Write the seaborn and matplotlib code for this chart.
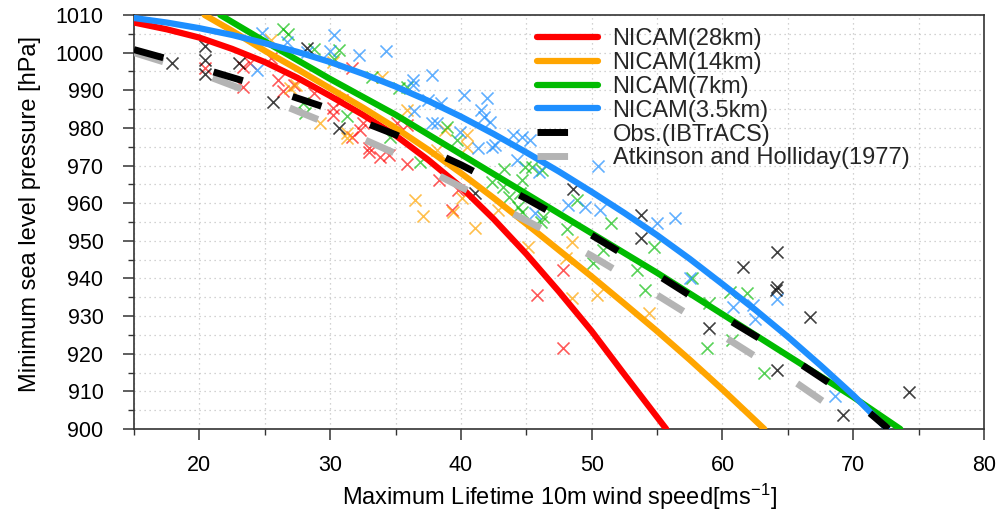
import matplotlib.pyplot as plt
from matplotlib.lines import Line2D
from matplotlib.ticker import MultipleLocator
import seaborn as sns

# fitted curves
red_x = [15, 17.5, 20, 22.5, 25, 27.5, 30, 32.5, 35, 37.5, 40, 42.5, 45, 47.5, 50, 52.5, 55.7]
red_y = [1008, 1006.2, 1004, 1001, 997.5, 993.3, 988.5, 983.5, 978, 971.5, 964.3, 955.8,
         946.5, 936.5, 926, 914.5, 900]
orange_x = [20.4, 22.5, 25, 27.5, 30, 32.5, 35, 37.5, 40, 42.5, 45, 47.5, 50, 52.5, 55,
            57.5, 60, 63.2]
orange_y = [1010, 1005.8, 1000.5, 995.6, 990.5, 985.4, 980, 974.2, 968, 961.4, 954.5,
            947.5, 940.5, 933.3, 926, 918.4, 910.5, 900]
green_x = [21.6, 25, 30, 35, 40, 45, 50, 55, 60, 65, 70, 73.6]
green_y = [1010, 1003, 993, 983.5, 973, 962.5, 952, 941.5, 930.5, 919.5, 908.5, 900]
blue_x = [15, 17.5, 20, 22.5, 25, 27.5, 30, 32.5, 35, 37.5, 40, 42.5, 45, 47.5, 50, 52.5,
          55, 57.5, 60, 62.5, 65, 67.5, 70, 72.6]
blue_y = [1009.2, 1008, 1006.5, 1004.7, 1002.5, 1000.2, 997.5, 994.4, 991, 987.2, 983,
          978.4, 973.5, 968.4, 963, 957.4, 951.5, 945.2, 938.5, 931.7, 924.5, 916.9, 909, 900]
obs_x = [15, 20, 25, 30, 35, 40, 45, 50, 55, 60, 65, 70, 72.7]
obs_y = [1000.8, 996, 990.8, 985, 978.2, 970.2, 961.2, 951.5, 941, 930, 919.5, 908, 900]
ah_x = [15, 20, 25, 30, 35, 40, 45, 50, 55, 60, 65, 69.5]
ah_y = [1000, 994.6, 988, 980.9, 973.2, 964.3, 955.4, 946, 935.6, 924.8, 913.8, 903]

# individual storms
red_px = [20.4, 23.3, 23.3, 23.9, 25.5, 26.0, 26.4, 27.2, 28.8, 30.2, 30.2, 30.9,
          31.7, 31.7, 32.3, 32.5, 33.0, 33.0, 33.8, 34.5, 35.1, 35.9, 35.9, 38.3,
          39.3, 39.8, 45.8, 47.8, 47.8]
red_py = [996, 996.2, 990.9, 997.2, 998.6, 992.7, 989.8, 991.4, 989.3, 985.3, 983.4, 987.4,
          995.9, 977.6, 979.4, 981.3, 974.7, 973.6, 972.3, 972.8, 981.3, 970.4, 980.8, 966.2,
          958.2, 963.5, 935.6, 942.3, 921.5]
orange_px = [25.5, 26.9, 27.4, 29.2, 30.2, 31.3, 31.3, 34.0, 35.9, 36.5, 37.1, 38.2,
             38.8, 39.4, 40.1, 40.5, 40.5, 41.1, 42.8, 45.1, 48.0, 48.5, 48.5, 50.4, 54.4]
orange_py = [1003.4, 990.6, 991.4, 981.3, 997.5, 978.6, 977.2, 993.5, 984.8, 960.8, 956.6, 974.1,
             979.4, 957.7, 961.4, 974.9, 978.1, 953.4, 958.2, 948.4, 945.4, 949.7, 934.8, 935.6, 930.8]
green_px = [26.4, 26.8, 28.8, 30.7, 30.3, 27.9, 28.1, 31.3, 33.2, 35.3, 35.9, 34.6,
            36.9, 38.9, 39.7, 42.4, 43.3, 43.2, 43.7, 44.5, 44.4, 44.7, 44.9, 45.4,
            44.7, 46.1, 46.2, 46.3, 48.1, 48.9, 50.1, 50.9, 51.5, 53.5, 54.1, 54.8,
            57.7, 59.0, 60.6, 61.9, 60.7, 58.8, 63.2]
green_py = [1006.3, 1004.9, 1001, 1000.7, 998.3, 986.7, 984, 983.2, 993.4, 990.7, 990.9, 977.6,
            971, 980.2, 976.8, 965.6, 969.1, 964.3, 961.6, 962.7, 959, 966.2, 969.6, 969.6,
            957.7, 955, 968.8, 956.3, 953.2, 960.8, 944, 947.6, 954.7, 942.3, 936.8, 948.4,
            940.1, 933.5, 936.4, 936.1, 923.7, 921.5, 914.9]
blue_px = [24.8, 26.7, 24.4, 28.2, 30.3, 30.0, 32.2, 34.3, 36.3, 36.3, 37.8, 37.5,
           38.5, 40.2, 42.0, 41.5, 41.8, 42.2, 36.4, 37.8, 38.2, 39.9, 44.0, 44.7,
           45.3, 42.4, 41.3, 42.6, 44.3, 46.0, 50.5, 48.2, 49.5, 50.6, 45.7, 55.0,
           56.4, 57.5, 60.8, 62.3, 62.5, 64.2, 68.6]
blue_py = [1005.2, 1002.7, 995.4, 1000.2, 1004.7, 1000.5, 999.4, 1000.5, 992.7, 991.4, 994.1, 987.4,
           986.6, 988.7, 987.9, 984.8, 982.9, 981.6, 984.5, 981.3, 981.3, 979, 978.1, 977.6,
           976.8, 974.9, 974.6, 975.5, 971.5, 968.3, 970, 959.5, 959, 958.2, 957.4, 954.7,
           956.1, 940.1, 932.4, 933, 929.3, 934.6, 908.8]
obs_px = [17.9, 20.4, 20.4, 20.4, 23.0, 25.6, 28.2, 30.7, 41.1, 48.6, 53.8, 53.8,
          64.2, 61.6, 64.2, 64.1, 59.0, 66.7, 64.2, 74.3, 69.2]
obs_py = [997.2, 1001.8, 998, 994.3, 997.3, 986.9, 1001.2, 980, 962.6, 963.8, 956.9, 950.8,
          947, 943, 937.7, 937, 926.8, 929.8, 915.7, 909.8, 903.7]

labels = ['NICAM(28km)', 'NICAM(14km)', 'NICAM(7km)', 'NICAM(3.5km)',
          'Obs.(IBTrACS)', 'Atkinson and Holliday(1977)']

RED, ORANGE, GREEN, BLUE = '#ff0000', '#ffa500', '#00bb00', '#1e8fff'
GRAY = '#b4b4b4'
DASH = (4.4, 7.5)

sns.set_theme(style='ticks')
plt.rcParams['font.family'] = ['Liberation Sans', 'DejaVu Sans']
plt.rcParams['mathtext.default'] = 'regular'

fig = plt.figure(figsize=(9.99, 5.14), dpi=100)
ax = fig.add_axes([134 / 999, 1 - 429 / 514, 850 / 999, 414 / 514])

for px, py, c, a in [(red_px, red_py, RED, 0.65), (orange_px, orange_py, ORANGE, 0.7),
                     (green_px, green_py, GREEN, 0.65), (blue_px, blue_py, BLUE, 0.7),
                     (obs_px, obs_py, 'black', 0.75)]:
    sns.scatterplot(x=px, y=py, marker='x', color=c, s=75, linewidth=1.2,
                    alpha=a, ax=ax, zorder=2)

for xs, ys, c in [(red_x, red_y, RED), (orange_x, orange_y, ORANGE),
                  (green_x, green_y, GREEN), (blue_x, blue_y, BLUE)]:
    sns.lineplot(x=xs, y=ys, color=c, lw=4.5, sort=False, estimator=None,
                 ax=ax, zorder=3)

for xs, ys, c in [(ah_x, ah_y, GRAY), (obs_x, obs_y, 'black')]:
    sns.lineplot(x=xs, y=ys, color=c, lw=5, sort=False, estimator=None,
                 ax=ax, zorder=4)
    ax.lines[-1].set_dashes(DASH)

ax.set_xlim(15, 80)
ax.set_ylim(900, 1010)
ax.xaxis.set_major_locator(MultipleLocator(10))
ax.xaxis.set_minor_locator(MultipleLocator(5))
ax.yaxis.set_major_locator(MultipleLocator(10))
ax.yaxis.set_minor_locator(MultipleLocator(5))
ax.set_axisbelow(True)
ax.grid(which='both', color='#c4c4c4', linestyle=(0, (1, 3)), linewidth=0.9)

for s in ax.spines.values():
    s.set_visible(True)
    s.set_color('#333333')
    s.set_linewidth(1.2)
ax.tick_params(which='major', direction='out', length=8, width=1.1,
               color='#333333', labelsize=15.5, labelcolor='black')
ax.tick_params(which='minor', direction='out', length=4, width=1.0, color='#333333')
ax.tick_params(axis='x', which='major', pad=11)
ax.tick_params(axis='y', which='major', pad=14)

ax.set_xlabel('Maximum Lifetime 10m wind speed[ms$^{-1}$]', fontsize=17, color='black')
ax.set_ylabel('Minimum sea level pressure [hPa]', fontsize=17, color='black')
ax.yaxis.set_label_coords(-0.109, 0.52)

handles = [Line2D([], [], color=c, lw=4.5) for c in (RED, ORANGE, GREEN, BLUE)]
handles += [Line2D([], [], color='black', lw=5, dashes=DASH),
            Line2D([], [], color=GRAY, lw=5, dashes=DASH)]
ax.legend(handles, labels, loc='upper left', bbox_to_anchor=(537 / 999, 1 - 28 / 514),
          bbox_transform=fig.transFigure, frameon=False, fontsize=17,
          handlelength=2.6, handletextpad=0.6, labelspacing=0.08,
          borderpad=0, borderaxespad=0)

fig.savefig('out.png', dpi=100)
